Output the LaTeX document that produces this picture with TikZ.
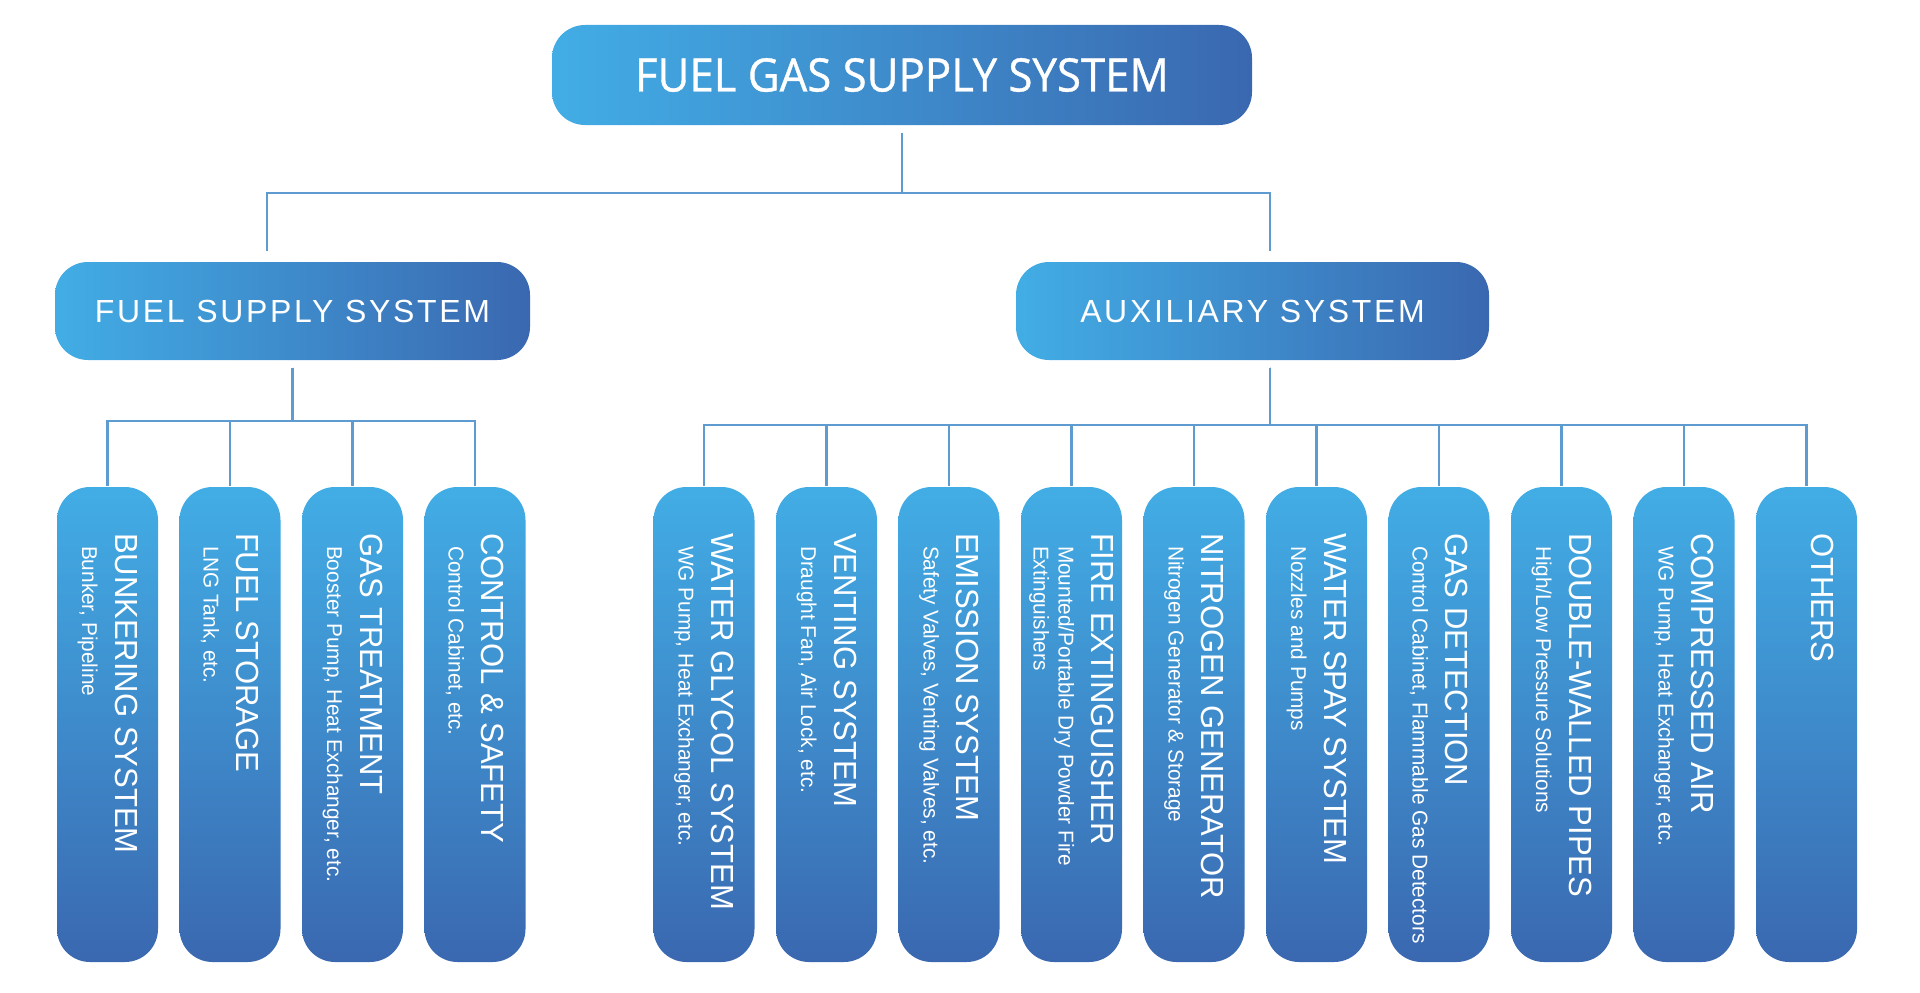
\documentclass[tikz,border=0pt]{standalone}
\usepackage{fontspec}
\usepackage{xcolor}
\usepackage{tikz}

\setmainfont{Liberation Sans}
\newfontfamily\titlefam[FakeStretch=0.95,FakeBold=0.8]{Open Sans}
\newfontfamily\levelfam[LetterSpace=8.4]{Liberation Sans}
\newfontfamily\headfam[FakeStretch=0.97]{Liberation Sans}
\newfontfamily\descfam[FakeStretch=0.97]{Liberation Sans}

\newcommand{\ftitle}{\titlefam\fontsize{13.1}{15}\selectfont}
\newcommand{\flevel}{\levelfam\fontsize{9.1}{11}\selectfont}
\newcommand{\fhead}{\headfam\fontsize{9.1}{11}\selectfont}
\newcommand{\fdesc}{\descfam\fontsize{6.1}{7.1}\selectfont}
\newcommand{\descind}{\hspace*{0.13cm}}

\definecolor{boxlight}{HTML}{42ADE5}
\definecolor{boxdark}{HTML}{3A68B0}
\definecolor{linkblue}{HTML}{5E9BD1}

\begin{document}
\begin{tikzpicture}[every node/.style={text=white, inner sep=0pt},
  pill/.style={rounded corners=0.33cm, left color=boxlight, right color=boxdark},
  leaf/.style={rounded corners=0.33cm, top color=boxlight, bottom color=boxdark,
    minimum width=1.01cm, minimum height=4.75cm},
  leaftext/.style={rotate=-90, anchor=west, align=left, font=\fdesc},
  link/.style={draw=linkblue, line width=0.6pt}]
\useasboundingbox (0,0) rectangle (19.2,9.92);

% Top level
\node[pill, minimum width=7cm, minimum height=1cm, font=\ftitle] (top) at (9.02,9.17) {FUEL GAS SUPPLY SYSTEM};

% Second level
\node[pill, minimum width=4.75cm, minimum height=0.98cm, font=\flevel] (fuel) at (2.925,6.81) {FUEL SUPPLY SYSTEM};
\node[pill, minimum width=4.73cm, minimum height=0.98cm, font=\flevel] (aux) at (12.525,6.81) {AUXILIARY SYSTEM};

% Fuel supply branches
\node[leaf] (bunk) at (1.075,2.675) {};
\node[leaf] (fstor) at (2.30,2.675) {};
\node[leaf] (gtreat) at (3.525,2.675) {};
\node[leaf] (ctrl) at (4.75,2.675) {};

% Auxiliary branches
\node[leaf] (wgs) at (7.04,2.675) {};
\node[leaf] (vent) at (8.265,2.675) {};
\node[leaf] (emis) at (9.49,2.675) {};
\node[leaf] (fire) at (10.715,2.675) {};
\node[leaf] (nitro) at (11.94,2.675) {};
\node[leaf] (spray) at (13.165,2.675) {};
\node[leaf] (gasdet) at (14.39,2.675) {};
\node[leaf] (dwp) at (15.615,2.675) {};
\node[leaf] (cair) at (16.84,2.675) {};
\node[leaf] (others) at (18.065,2.675) {};

% Branch labels
\node[leaftext] (bunk-t) at ([yshift=-4.6mm]bunk.north) {{\fhead BUNKERING SYSTEM}\\[2.3pt] \descind Bunker, Pipeline};
\node[leaftext] (fstor-t) at ([yshift=-4.6mm]fstor.north) {{\fhead FUEL STORAGE}\\[2.3pt] \descind LNG Tank, etc.};
\node[leaftext] (gtreat-t) at ([yshift=-4.6mm]gtreat.north) {{\fhead GAS TREATMENT}\\[2.3pt] \descind Booster Pump, Heat Exchanger, etc.};
\node[leaftext] (ctrl-t) at ([yshift=-4.6mm]ctrl.north) {{\fhead CONTROL \& SAFETY}\\[2.3pt] \descind Control Cabinet, etc.};
\node[leaftext] (wgs-t) at ([yshift=-4.6mm]wgs.north) {{\fhead WATER GLYCOL SYSTEM}\\[2.3pt] \descind WG Pump, Heat Exchanger, etc.};
\node[leaftext] (vent-t) at ([yshift=-4.6mm]vent.north) {{\fhead VENTING SYSTEM}\\[2.3pt] \descind Draught Fan, Air Lock, etc.};
\node[leaftext] (emis-t) at ([yshift=-4.6mm]emis.north) {{\fhead EMISSION SYSTEM}\\[2.3pt] \descind Safety Valves, Venting Valves, etc.};
\node[leaftext] (fire-t) at ([yshift=-4.6mm]fire.north) {{\fhead FIRE EXTINGUISHER}\\[2.3pt] \descind Mounted/Portable Dry Powder Fire\\ \descind Extinguishers};
\node[leaftext] (nitro-t) at ([yshift=-4.6mm]nitro.north) {{\fhead NITROGEN GENERATOR}\\[2.3pt] \descind Nitrogen Generator \& Storage};
\node[leaftext] (spray-t) at ([yshift=-4.6mm]spray.north) {{\fhead WATER SPAY SYSTEM}\\[2.3pt] \descind Nozzles and Pumps};
\node[leaftext] (gasdet-t) at ([yshift=-4.6mm]gasdet.north) {{\fhead GAS DETECTION}\\[2.3pt] \descind Control Cabinet, Flammable Gas Detectors};
\node[leaftext] (dwp-t) at ([yshift=-4.6mm]dwp.north) {{\fhead DOUBLE-WALLED PIPES}\\[2.3pt] \descind High/Low Pressure Solutions};
\node[leaftext] (cair-t) at ([yshift=-4.6mm]cair.north) {{\fhead COMPRESSED AIR}\\[2.3pt] \descind WG Pump, Heat Exchanger, etc.};
\node[leaftext] (others-t) at ([yshift=-4.6mm]others.north) {{\fhead OTHERS}\\[2.3pt] \mbox{}};

% Connectors, top level
\draw[link, shorten <=2pt, shorten >=3pt] (top.south) -- ++(0,-0.67) -| ([xshift=-2.55mm]fuel.north);
\draw[link, shorten <=2pt, shorten >=3pt] (top.south) -- ++(0,-0.67) -| ([xshift=1.75mm]aux.north);

% Connectors, fuel supply
\draw[link, shorten <=2pt] (fuel.south) -- ++(0,-0.6) -| (bunk.north);
\draw[link, shorten <=2pt] (fuel.south) -- ++(0,-0.6) -| (fstor.north);
\draw[link, shorten <=2pt] (fuel.south) -- ++(0,-0.6) -| (gtreat.north);
\draw[link, shorten <=2pt] (fuel.south) -- ++(0,-0.6) -| (ctrl.north);

% Connectors, auxiliary
\draw[link, shorten <=2pt] ([xshift=1.75mm]aux.south) -- ++(0,-0.64) -| (wgs.north);
\draw[link, shorten <=2pt] ([xshift=1.75mm]aux.south) -- ++(0,-0.64) -| (vent.north);
\draw[link, shorten <=2pt] ([xshift=1.75mm]aux.south) -- ++(0,-0.64) -| (emis.north);
\draw[link, shorten <=2pt] ([xshift=1.75mm]aux.south) -- ++(0,-0.64) -| (fire.north);
\draw[link, shorten <=2pt] ([xshift=1.75mm]aux.south) -- ++(0,-0.64) -| (nitro.north);
\draw[link, shorten <=2pt] ([xshift=1.75mm]aux.south) -- ++(0,-0.64) -| (spray.north);
\draw[link, shorten <=2pt] ([xshift=1.75mm]aux.south) -- ++(0,-0.64) -| (gasdet.north);
\draw[link, shorten <=2pt] ([xshift=1.75mm]aux.south) -- ++(0,-0.64) -| (dwp.north);
\draw[link, shorten <=2pt] ([xshift=1.75mm]aux.south) -- ++(0,-0.64) -| (cair.north);
\draw[link, shorten <=2pt] ([xshift=1.75mm]aux.south) -- ++(0,-0.64) -| (others.north);

\end{tikzpicture}
\end{document}
